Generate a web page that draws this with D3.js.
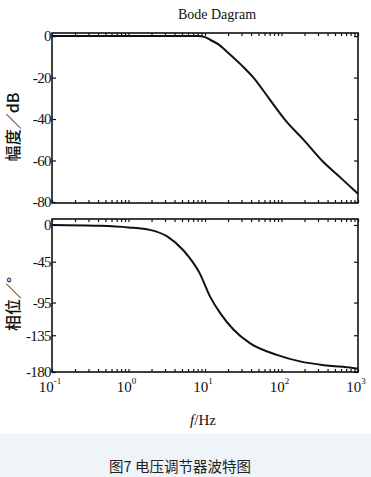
<!DOCTYPE html>
<html>
<head>
<meta charset="utf-8">
<script src="https://cdn.jsdelivr.net/npm/d3@7"></script>
<style>
  body { margin: 0; background: #fff; }
  svg { display: block; }
</style>
</head>
<body>
<svg id="chart" width="371" height="477"></svg>
<script>
// values
const freqMag = [0.1, 1, 5, 8, 10, 12, 15, 20, 30, 43, 70, 112, 200, 337, 600, 1000];
const magDb = [0, 0, 0, 0, -0.5, -2, -4, -8, -14, -20, -30.5, -40.5, -50.5, -60, -68.5, -76];
const freqPh = [0.1, 0.43, 1, 1.9, 3.2, 5.2, 8.5, 11.7, 15.8, 23.5, 39, 87, 174, 390, 850, 1000];
const phDeg = [0, -1, -3, -6, -14, -31, -59, -88, -108, -128, -145, -159, -167, -172, -175, -176];
const magTicks = [0, -20, -40, -60, -80];
const phTicks = [0, -45, -95, -135, -180];
const decades = [-1, 0, 1, 2, 3];

const svg = d3.select("#chart");
const serif = "'Liberation Serif', 'DejaVu Serif', serif";
const cjk = "'Noto Sans CJK SC', sans-serif";

// bottom band + caption
svg.append("rect").attr("x", 0).attr("y", 434).attr("width", 371).attr("height", 43).attr("fill", "#eff4f8");
svg.append("text").attr("x", 180).attr("y", 472).attr("text-anchor", "middle")
  .attr("font-family", cjk).attr("font-size", 14.5).attr("fill", "#222")
  .text("图7 电压调节器波特图");

const x = d3.scaleLog().domain([0.1, 1000]).range([52, 358]);
const yMag = d3.scaleLinear().domain([-80.5, 1.5]).range([203, 33]);
const yPh = d3.scaleLinear().domain([-180, 7.3]).range([372, 219]);

// minor log ticks
const minor = [];
for (let e = -1; e < 3; e++) for (let k = 1; k <= 9; k++) minor.push(k * Math.pow(10, e));
minor.push(1000);

function panel(y, ticks, fx, fy) {
  const g = svg.append("g");
  const [x0, x1] = x.range();
  const [y1, y0] = y.range();

  g.append("g").attr("transform", `translate(${x0},0)`)
    .call(d3.axisLeft(y).tickValues(ticks).tickSize(-4).tickPadding(1).tickFormat(d => String(d)));
  g.append("g").attr("transform", `translate(${x1},0)`)
    .call(d3.axisRight(y).tickValues(ticks).tickSize(-4).tickFormat(""));
  g.append("g").attr("transform", `translate(0,${y0})`)
    .call(d3.axisTop(x).tickValues(minor).tickSize(-3).tickFormat(""));
  g.append("g").attr("transform", `translate(0,${y1})`)
    .call(d3.axisBottom(x).tickValues(minor).tickSize(-3).tickFormat(""));

  g.selectAll(".domain").remove();
  g.selectAll(".tick line").attr("stroke", "#111").attr("stroke-width", 1.2);
  g.selectAll(".tick text").attr("font-family", serif).attr("font-size", 15)
    .attr("fill", "#111").style("letter-spacing", "-0.6px");

  g.append("rect").attr("x", x0).attr("y", y0).attr("width", x1 - x0).attr("height", y1 - y0)
    .attr("fill", "none").attr("stroke", "#111").attr("stroke-width", 1.6);

  const line = d3.line().x((d, i) => x(fx[i])).y(d => y(d)).curve(d3.curveMonotoneX);
  g.append("path").datum(fy).attr("d", line)
    .attr("fill", "none").attr("stroke", "#111").attr("stroke-width", 2);
}

panel(yMag, magTicks, freqMag, magDb);
panel(yPh, phTicks, freqPh, phDeg);

// x tick labels 10^n
const xl = svg.append("g").attr("font-family", serif).attr("fill", "#111");
decades.forEach(e => {
  const t = xl.append("text").attr("x", x(Math.pow(10, e)) - 2).attr("y", 392)
    .attr("text-anchor", "middle").attr("font-size", 15);
  t.append("tspan").text("10");
  t.append("tspan").attr("dy", -8).attr("font-size", 9).text(e);
});

// title and axis labels
svg.append("text").attr("x", 217).attr("y", 19).attr("text-anchor", "middle")
  .attr("font-family", serif).attr("font-size", 14).attr("fill", "#111").text("Bode Dagram");

const fl = svg.append("text").attr("x", 203).attr("y", 425).attr("text-anchor", "middle")
  .attr("font-family", serif).attr("font-size", 15).attr("fill", "#111");
fl.append("tspan").attr("font-style", "italic").text("f");
fl.append("tspan").text("/Hz");

svg.append("text").attr("transform", "translate(19,127) rotate(-90)").attr("text-anchor", "middle")
  .attr("font-family", cjk).attr("font-size", 16).attr("font-weight", 500).attr("fill", "#111")
  .text("幅度／dB");
svg.append("text").attr("transform", "translate(19,304) rotate(-90)").attr("text-anchor", "middle")
  .attr("font-family", cjk).attr("font-size", 16).attr("font-weight", 500).attr("fill", "#111")
  .text("相位／°");
</script>
</body>
</html>
